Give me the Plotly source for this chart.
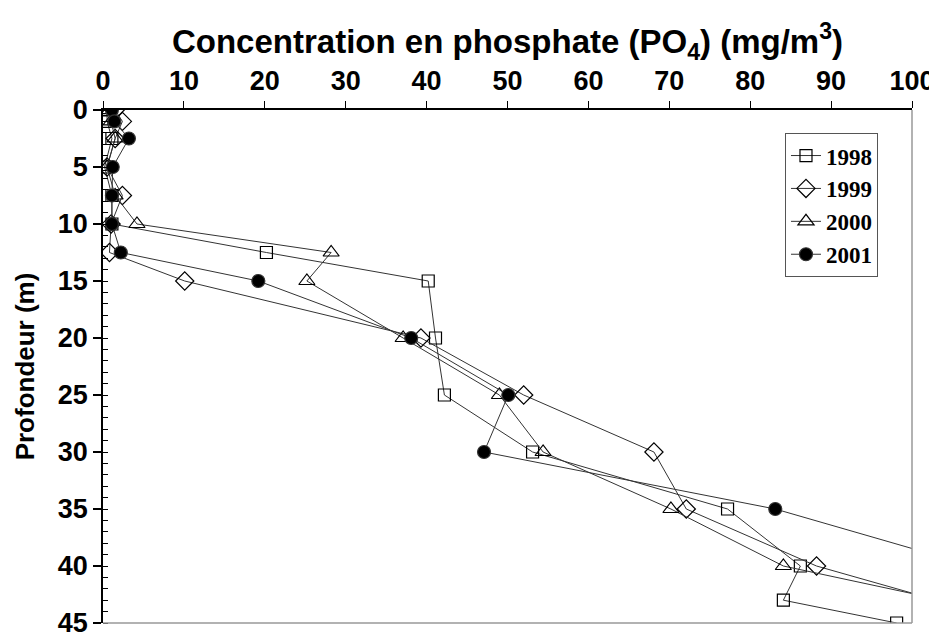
import plotly.graph_objects as go

# profondeurs (m)
depth = [0, 1, 2.5, 5, 7.5, 10, 12.5, 15, 20, 25, 30, 35, 40]
depth_1998 = depth + [43, 45]
depth_1999 = depth + [45]
depth_2000 = depth + [45]
depth_2001 = depth[:-1] + [40]

po4_1998 = [0.5, 0.5, 1.1, 0.2, 1.1, 1.1, 20.2, 40.2, 41.1, 42.2, 53.1, 77.2, 86.2, 84.1, 98.1]
po4_1999 = [1.5, 2.4, 1.5, 0.5, 2.4, 1.0, 0.8, 10.1, 39.3, 52.0, 68.1, 72.1, 88.2, 113.0]
po4_2000 = [0.8, 1.0, 1.5, 0.5, 1.5, 4.2, 28.2, 25.2, 37.1, 49.0, 54.4, 70.2, 84.1, 117.0]
po4_2001 = [1.1, 1.4, 3.2, 1.2, 1.1, 1.1, 2.2, 19.2, 38.1, 50.1, 47.1, 83.1, 107.5]

series = [
    ("1998", po4_1998, depth_1998, "square-open", 12),
    ("1999", po4_1999, depth_1999, "diamond-open", 14),
    ("2000", po4_2000, depth_2000, "triangle-up-open", 14),
    ("2001", po4_2001, depth_2001, "circle", 13),
]

fig = go.Figure()
for name, x, y, sym, size in series:
    fig.add_trace(go.Scatter(
        x=x, y=y, name=name, mode="lines+markers",
        line=dict(color="#333333", width=1),
        marker=dict(symbol=sym, size=size, color="black",
                    line=dict(color="#333333", width=1.2)),
    ))

tick_font = dict(family="Liberation Sans", size=27, color="black", weight="bold")

# la page ajoute ~8 px de marge au body : marges compensées
fig.update_layout(
    width=937, height=632,
    template="plotly_white",
    plot_bgcolor="white", paper_bgcolor="white",
    margin=dict(l=95, r=33, t=102, b=17),
    showlegend=True,
    legend=dict(
        x=0.843, y=0.955, xanchor="left", yanchor="top",
        bgcolor="white", bordercolor="#555555", borderwidth=1,
        font=dict(family="Liberation Serif", size=23, color="black", weight="bold"),
        itemwidth=30, tracegroupgap=0,
    ),
)

fig.update_xaxes(
    side="top", range=[0, 100], dtick=10, tick0=0, automargin=False,
    showgrid=False, zeroline=False,
    showline=True, linecolor="black", linewidth=1.5,
    ticks="outside", ticklen=7, tickcolor="black", tickwidth=1,
    tickfont=tick_font,
    title=dict(text="<b>Concentration en phosphate (PO<sub>4</sub>) (mg/m<sup>3</sup>)</b>",
               font=dict(family="Liberation Sans", size=33, color="black"), standoff=3),
)
fig.update_yaxes(
    range=[45, 0], dtick=5, tick0=0, automargin=False,
    showgrid=False, zeroline=False,
    showline=True, linecolor="black", linewidth=1.5,
    ticks="outside", ticklen=8, tickcolor="black", tickwidth=1.5,
    minor=dict(ticks="inside", dtick=1, ticklen=5, tickcolor="black", tickwidth=1),
    tickfont=tick_font,
    title=dict(text="<b>Profondeur (m)</b>",
               font=dict(family="Liberation Sans", size=26, color="black"), standoff=16),
)

# cadre droit et bas en gris
fig.add_shape(type="line", xref="paper", yref="paper", x0=1, x1=1, y0=0, y1=1,
              line=dict(color="#999999", width=1.5))
fig.add_shape(type="line", xref="paper", yref="paper", x0=0, x1=1, y0=0, y1=0,
              line=dict(color="#999999", width=1.5))

fig.write_html("out.html")
